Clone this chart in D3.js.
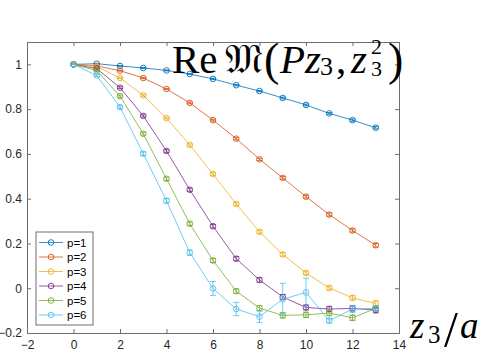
<!DOCTYPE html>
<html>
<head>
<meta charset="utf-8">
<script src="https://cdn.jsdelivr.net/npm/d3@7"></script>
<style>
  body { margin: 0; background: #fff; }
  svg { display: block; }
  .tick text { font-family: "Liberation Sans", Arial, sans-serif; font-size: 12px; fill: #262626; }
</style>
</head>
<body>
<div id="chart"></div>
<script>
// Data
const zVals = [0, 1, 2, 3, 4, 5, 6, 7, 8, 9, 10, 11, 12, 13];
const seriesNames = ['p=1', 'p=2', 'p=3', 'p=4', 'p=5', 'p=6'];
const p1 = [1.000, 1.003, 0.993, 0.984, 0.973, 0.957, 0.935, 0.907, 0.881, 0.850, 0.819, 0.781, 0.751, 0.717];
const p2 = [1.000, 0.993, 0.972, 0.939, 0.890, 0.828, 0.751, 0.668, 0.576, 0.493, 0.409, 0.329, 0.258, 0.192];
const p3 = [1.000, 0.990, 0.939, 0.862, 0.760, 0.640, 0.510, 0.376, 0.252, 0.151, 0.068, 0.001, -0.043, -0.068];
const p4 = [1.000, 0.981, 0.896, 0.770, 0.613, 0.440, 0.277, 0.132, 0.037, -0.039, -0.086, -0.093, -0.090, -0.098];
const p5 = [1.000, 0.972, 0.858, 0.690, 0.489, 0.288, 0.124, -0.013, -0.089, -0.121, -0.119, -0.111, -0.132, -0.090];
const p6 = [1.000, 0.950, 0.809, 0.601, 0.391, 0.159, -0.001, -0.093, -0.127, -0.049, -0.019, -0.145, -0.093, -0.090];
// error bars
const e1 = [0, 0.001, 0.001, 0.002, 0.002, 0.002, 0.003, 0.003, 0.003, 0.004, 0.004, 0.004, 0.005, 0.005];
const e2 = [0, 0.002, 0.002, 0.003, 0.003, 0.004, 0.004, 0.005, 0.005, 0.006, 0.006, 0.007, 0.007, 0.008];
const e3 = [0, 0.002, 0.003, 0.004, 0.004, 0.005, 0.006, 0.006, 0.007, 0.008, 0.008, 0.009, 0.010, 0.012];
const e4 = [0, 0.003, 0.004, 0.005, 0.006, 0.007, 0.008, 0.009, 0.010, 0.011, 0.011, 0.012, 0.012, 0.012];
const e5 = [0, 0.003, 0.005, 0.006, 0.007, 0.008, 0.009, 0.010, 0.012, 0.012, 0.012, 0.012, 0.012, 0.012];
const e6 = [0, 0.004, 0.006, 0.008, 0.010, 0.012, 0.031, 0.030, 0.026, 0.071, 0.064, 0.010, 0.015, 0.010];
const xTicks = [-2, 0, 2, 4, 6, 8, 10, 12, 14];
const yTicks = [-0.2, 0, 0.2, 0.4, 0.6, 0.8, 1];

const colors = ['#0072BD', '#D95319', '#EDB120', '#7E2F8E', '#77AC30', '#4DBEEE'];
const allVals = [p1, p2, p3, p4, p5, p6];
const allErr = [e1, e2, e3, e4, e5, e6];

const width = 485, height = 363;
const margin = {top: 42, right: 86, bottom: 30, left: 27};

const svg = d3.select('#chart').append('svg')
  .attr('width', width)
  .attr('height', height);

const x = d3.scaleLinear().domain([-2, 14]).range([margin.left, width - margin.right]);
const y = d3.scaleLinear().domain([-0.2, 1.1]).range([height - margin.bottom, margin.top]);

const axisColor = '#6e6e6e';
const tickLen = 4;

// axes (box on, ticks inward)
const xAxis = svg.append('g')
  .attr('transform', `translate(0,${height - margin.bottom})`)
  .call(d3.axisBottom(x).tickValues(xTicks).tickSize(-tickLen).tickPadding(7).tickFormat(d3.format('d')));
const yAxis = svg.append('g')
  .attr('transform', `translate(${margin.left},0)`)
  .call(d3.axisLeft(y).tickValues(yTicks).tickSize(-tickLen).tickPadding(5).tickFormat(d => d === 0 ? '0' : d3.format('')(d)));
const xTop = svg.append('g')
  .attr('transform', `translate(0,${margin.top})`)
  .call(d3.axisTop(x).tickValues(xTicks).tickSize(-tickLen).tickFormat(''));
const yRight = svg.append('g')
  .attr('transform', `translate(${width - margin.right},0)`)
  .call(d3.axisRight(y).tickValues(yTicks).tickSize(-tickLen).tickFormat(''));

[xAxis, yAxis, xTop, yRight].forEach(g => {
  g.select('.domain').attr('stroke', axisColor).attr('stroke-width', 1);
  g.selectAll('.tick line').attr('stroke', axisColor);
});

// series
const line = d3.line().x((d, i) => x(zVals[i])).y(d => y(d));

allVals.forEach((vals, k) => {
  const g = svg.append('g');
  g.append('path')
    .datum(vals)
    .attr('d', line)
    .attr('fill', 'none')
    .attr('stroke', colors[k])
    .attr('stroke-width', 0.8);

  // error bars
  const eb = g.selectAll('.eb')
    .data(vals.map((v, i) => ({z: zVals[i], v: v, e: allErr[k][i]})))
    .join('g');
  eb.append('line')
    .attr('x1', d => x(d.z)).attr('x2', d => x(d.z))
    .attr('y1', d => y(d.v - d.e)).attr('y2', d => y(d.v + d.e))
    .attr('stroke', colors[k]).attr('stroke-width', 0.8);
  eb.append('line')
    .attr('x1', d => x(d.z) - 3).attr('x2', d => x(d.z) + 3)
    .attr('y1', d => y(d.v - d.e)).attr('y2', d => y(d.v - d.e))
    .attr('stroke', colors[k]).attr('stroke-width', 0.8);
  eb.append('line')
    .attr('x1', d => x(d.z) - 3).attr('x2', d => x(d.z) + 3)
    .attr('y1', d => y(d.v + d.e)).attr('y2', d => y(d.v + d.e))
    .attr('stroke', colors[k]).attr('stroke-width', 0.8);

  g.selectAll('circle')
    .data(vals)
    .join('circle')
    .attr('cx', (d, i) => x(zVals[i]))
    .attr('cy', d => y(d))
    .attr('r', 2.8)
    .attr('fill', 'none')
    .attr('stroke', colors[k])
    .attr('stroke-width', 0.9);
});

// legend
const legX = 36, legY = 232, legW = 57, legH = 93, rowH = 14.5;
const legend = svg.append('g');
legend.append('rect')
  .attr('x', legX).attr('y', legY)
  .attr('width', legW).attr('height', legH)
  .attr('fill', '#fff')
  .attr('stroke', axisColor)
  .attr('stroke-width', 1);
seriesNames.forEach((name, k) => {
  const cy = legY + 10.5 + k * rowH;
  legend.append('line')
    .attr('x1', legX + 3).attr('x2', legX + 27)
    .attr('y1', cy).attr('y2', cy)
    .attr('stroke', colors[k]).attr('stroke-width', 0.8);
  legend.append('circle')
    .attr('cx', legX + 15).attr('cy', cy).attr('r', 2.8)
    .attr('fill', 'none').attr('stroke', colors[k]).attr('stroke-width', 0.9);
  legend.append('text')
    .attr('x', legX + 31).attr('y', cy + 4)
    .attr('font-family', '"Liberation Sans", Arial, sans-serif')
    .attr('font-size', 11.5)
    .attr('fill', '#000')
    .text(name);
});

// title inside the axes: Re M(P z3, z3^2), LaTeX-like layout
const serif = '"Liberation Serif", "DejaVu Serif", serif';
const title = svg.append('text')
  .attr('font-family', serif)
  .attr('font-size', 41)
  .attr('fill', '#000');
const tBase = 72.5;
title.append('tspan').attr('x', 172).attr('y', tBase).text('Re');
title.append('tspan').attr('x', 225).attr('y', tBase)
  .attr('font-family', '"DejaVu Serif", "DejaVu Sans", serif')
  .attr('textLength', 38).attr('lengthAdjust', 'spacingAndGlyphs')
  .text('𝔐');
title.append('tspan').attr('x', 264).attr('y', tBase + 2).attr('font-size', 46).text('(');
title.append('tspan').attr('x', 280).attr('y', tBase).attr('font-style', 'italic').text('P');
title.append('tspan').attr('x', 305).attr('y', tBase).attr('font-style', 'italic').text('z');
title.append('tspan').attr('x', 320).attr('y', tBase + 2.5).attr('font-size', 26).text('3');
title.append('tspan').attr('x', 336).attr('y', tBase).text(',');
title.append('tspan').attr('x', 351).attr('y', tBase).attr('font-style', 'italic').text('z');
title.append('tspan').attr('x', 371).attr('y', 53.5).attr('font-size', 22).text('2');
title.append('tspan').attr('x', 371).attr('y', tBase + 3.5).attr('font-size', 22).text('3');
title.append('tspan').attr('x', 388).attr('y', tBase + 2).attr('font-size', 46).text(')');

// x label: z3/a
const xl = svg.append('text')
  .attr('font-family', serif)
  .attr('font-size', 37)
  .attr('fill', '#000');
xl.append('tspan').attr('x', 410).attr('y', 337.5).attr('font-style', 'italic').text('z');
xl.append('tspan').attr('x', 428).attr('y', 343).attr('font-size', 25).text('3');
xl.append('tspan').attr('x', 444).attr('y', 346).attr('font-size', 50).text('/');
xl.append('tspan').attr('x', 460).attr('y', 337.5).attr('font-style', 'italic').text('a');
</script>
</body>
</html>
